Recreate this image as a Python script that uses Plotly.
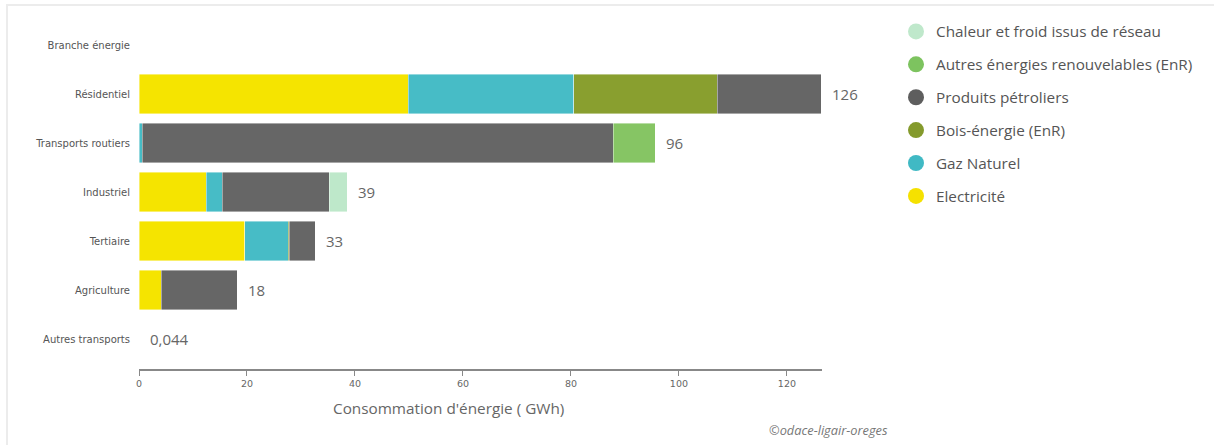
import plotly.graph_objects as go

categories = ["Branche énergie", "Résidentiel", "Transports routiers", "Industriel",
              "Tertiaire", "Agriculture", "Autres transports"]

# Stack order (left to right)
series_names = ["Electricité", "Gaz Naturel", "Bois-énergie (EnR)", "Produits pétroliers",
                "Autres énergies renouvelables (EnR)", "Chaleur et froid issus de réseau"]

electricite = [None, 49.9, 0.0, 12.5, 19.6, 4.1, 0.044]
gaz_naturel = [None, 30.6, 0.6, 2.9, 8.0, 0.0, 0.0]
bois_energie = [None, 26.6, 0.0, 0.0, 0.2, 0.0, 0.0]
produits_petroliers = [None, 19.3, 87.2, 19.8, 4.8, 14.1, 0.0]
autres_enr = [None, 0.0, 7.8, 0.0, 0.0, 0.0, 0.0]
chaleur_froid = [None, 0.0, 0.0, 3.4, 0.0, 0.0, 0.0]

values = [electricite, gaz_naturel, bois_energie, produits_petroliers, autres_enr, chaleur_froid]
bar_colors = ["#F5E400", "#47BCC6", "#899F2F", "#666666", "#86C564", "#BEE8CA"]
legend_colors = ["#F5E100", "#40B9C4", "#849A2C", "#5E5E5E", "#7DC35F", "#BFE8CB"]

x_ticks = [0, 20, 40, 60, 80, 100, 120]

fig = go.Figure()
for name, vals, col in zip(series_names, values, bar_colors):
    fig.add_trace(go.Bar(
        y=categories, x=vals, orientation="h", name=name,
        marker=dict(color=col, line=dict(color="rgba(255,255,255,0.7)", width=0.6)),
        showlegend=False, hoverinfo="x+name",
    ))

# legend entries with circle markers (listed top to bottom = reverse stack order)
for name, col in reversed(list(zip(series_names, legend_colors))):
    fig.add_trace(go.Scatter(
        x=[None], y=[None], mode="markers", name=name, legendgroup=name,
        marker=dict(color=col, size=16, symbol="circle"), showlegend=True,
    ))


def fmt(v):
    if v >= 1:
        return str(int(round(v)))
    return ("%.3f" % v).replace(".", ",")


for i, cat in enumerate(categories):
    vals = [s[i] for s in values if s[i] is not None]
    if not vals:
        continue
    tot = sum(vals)
    fig.add_annotation(x=tot, y=cat, xref="x", yref="y", text=fmt(tot),
                       showarrow=False, xanchor="left", xshift=9,
                       font=dict(family="Open Sans", size=15, color="#666666"))

W, H = 1214, 445
L, R, T, B = 139, 392, 20, 76
pw, ph = W - L - R, H - T - B


def px_x(p):
    return (p - L) / pw


def px_y(p):
    return (H - B - p) / ph


fig.add_annotation(x=px_x(448), y=px_y(408), xref="paper", yref="paper",
                   text="Consommation d'énergie ( GWh)", showarrow=False,
                   xanchor="center", yanchor="middle",
                   font=dict(family="Open Sans", size=15.3, color="#666666"))
fig.add_annotation(x=px_x(828), y=px_y(430), xref="paper", yref="paper",
                   text="<i>©odace-ligair-oreges</i>", showarrow=False,
                   xanchor="center", yanchor="middle",
                   font=dict(family="Open Sans", size=12.8, color="#777777"))

# outer light frame (top and left edges visible)
fig.add_shape(type="rect", xref="paper", yref="paper",
              x0=px_x(7), x1=px_x(1230), y0=px_y(460), y1=px_y(5),
              line=dict(color="#ececec", width=2), fillcolor="rgba(0,0,0,0)", layer="below")

fig.update_layout(
    width=W, height=H,
    margin=dict(l=L, r=R, t=T, b=B, pad=0),
    barmode="stack", bargap=0.2,
    plot_bgcolor="white", paper_bgcolor="white",
    font=dict(family="DejaVu Sans", color="#666666"),
    legend=dict(
        x=px_x(896), y=px_y(15), xanchor="left", yanchor="top",
        traceorder="grouped", tracegroupgap=10,
        font=dict(family="Open Sans", size=15.3, color="#555555"),
        bgcolor="rgba(0,0,0,0)", itemclick=False,
    ),
    xaxis=dict(
        range=[0, 126.5], tickvals=x_ticks, ticks="outside", ticklen=5,
        tickcolor="#888888", showline=True, linecolor="#888888", linewidth=1.5,
        showgrid=False, zeroline=False, automargin=False,
        tickfont=dict(family="DejaVu Sans", size=9.5, color="#666666"),
    ),
    yaxis=dict(
        type="category", categoryorder="array", categoryarray=categories,
        range=[6.61, -0.51], showgrid=False, zeroline=False, showline=False,
        ticks="", ticklabelstandoff=8, automargin=False,
        tickfont=dict(family="DejaVu Sans", size=10, color="#555555"),
    ),
    showlegend=True,
)

fig.write_html("out.html", config={"displayModeBar": False},
               post_script="document.body.style.margin='0';document.body.style.padding='0';")
